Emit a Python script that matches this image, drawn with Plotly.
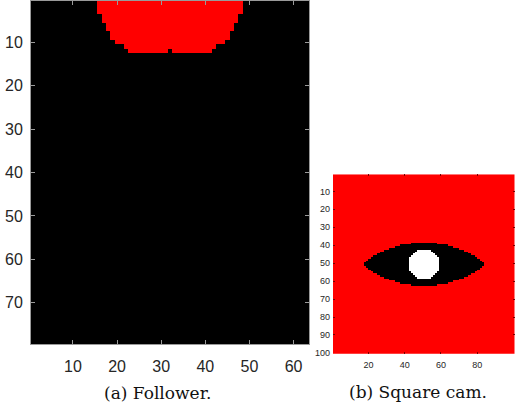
import numpy as np
import plotly.graph_objects as go

# ---- (a) Follower: 63 x 79 binary frame, red blob at the top -------------
follower_cols = 63
follower_rows = 79
# red span per image row: (row, first col, last col), 1-based
follower_red_rows = [1, 2, 3, 4, 5, 6, 7, 8, 9, 10, 11, 12]
follower_red_first = [16, 16, 16, 17, 17, 18, 18, 19, 19, 20, 22, 23]
follower_red_last = [48, 48, 48, 47, 47, 46, 46, 45, 45, 44, 42, 41]
# single dark pixel inside the blob: (row, col)
follower_hole = (12, 32)

# ---- (b) Square cam: 100 x 100 frame, red with a black eye and white pupil
cam_size = 100
eye_center = (50.5, 50.5)      # (col, row)
eye_half_width = 34.0
eye_half_height = 12.0
pupil_radius = 8.4

x_ticks_a = [10, 20, 30, 40, 50, 60]
y_ticks_a = [10, 20, 30, 40, 50, 60, 70]
x_ticks_b = [20, 40, 60, 80, 100]
y_ticks_b = [10, 20, 30, 40, 50, 60, 70, 80, 90, 100]

BLACK, RED, WHITE = 0, 1, 2

# build follower image
img_a = np.full((follower_rows, follower_cols), BLACK)
for r, c0, c1 in zip(follower_red_rows, follower_red_first, follower_red_last):
    img_a[r - 1, c0 - 1:c1] = RED
img_a[follower_hole[0] - 1, follower_hole[1] - 1] = BLACK

# build square-cam image: lens made of two circular arcs, pupil disc
img_b = np.full((cam_size, cam_size), RED)
cols = np.arange(1, cam_size + 1)
rows = np.arange(1, cam_size + 1)
CC, RR = np.meshgrid(cols, rows)
cx, cy = eye_center
arc_r = (eye_half_width ** 2 + eye_half_height ** 2) / (2 * eye_half_height)
top_cy = cy - eye_half_height + arc_r
bot_cy = cy + eye_half_height - arc_r
in_top = (CC - cx) ** 2 + (RR - top_cy) ** 2 <= arc_r ** 2
in_bot = (CC - cx) ** 2 + (RR - bot_cy) ** 2 <= arc_r ** 2
img_b[in_top & in_bot] = BLACK
img_b[(CC - cx) ** 2 + (RR - cy) ** 2 <= pupil_radius ** 2] = WHITE

scale = [[0.0, "#000000"], [0.5, "#ff0000"], [1.0, "#ffffff"]]

fig = go.Figure()
fig.add_trace(go.Heatmap(
    z=img_a.tolist(), x=list(range(1, follower_cols + 1)),
    y=list(range(1, follower_rows + 1)),
    colorscale=scale, zmin=0, zmax=2, showscale=False,
    xaxis="x", yaxis="y", hoverinfo="skip"))
fig.add_trace(go.Heatmap(
    z=img_b.tolist(), x=list(cols), y=list(rows),
    colorscale=scale, zmin=0, zmax=2, showscale=False,
    xaxis="x2", yaxis="y2", hoverinfo="skip"))

W, H = 517, 412
tick_font_a = dict(family="Liberation Sans, Arial, sans-serif", size=16, color="#262626")
tick_font_b = dict(family="Liberation Sans, Arial, sans-serif", size=9, color="#262626")

fig.update_layout(
    width=W, height=H,
    margin=dict(l=0, r=0, t=0, b=0),
    paper_bgcolor="white", plot_bgcolor="white",
    showlegend=False,
    xaxis=dict(
        domain=[31 / W, 309 / W], range=[0.5, follower_cols + 0.5],
        tickvals=x_ticks_a, ticks="inside", ticklen=4, tickcolor="#9a9a9a",
        showline=True, linecolor="#9a9a9a", linewidth=1, mirror="ticks",
        showgrid=False, zeroline=False, tickfont=tick_font_a, anchor="y",
        ticklabelstandoff=8),
    yaxis=dict(
        domain=[1 - 347.5 / H, 1 - 1 / H], range=[follower_rows + 0.5, 0.5],
        tickvals=y_ticks_a, ticks="inside", ticklen=4, tickcolor="#9a9a9a",
        showline=True, linecolor="#9a9a9a", linewidth=1, mirror="ticks",
        showgrid=False, zeroline=False, tickfont=tick_font_a, anchor="x",
        ticklabelstandoff=4),
    xaxis2=dict(
        domain=[333 / W, 514.5 / W], range=[0.5, cam_size + 0.5],
        tickvals=x_ticks_b, ticks="inside", ticklen=2, tickcolor="#7a0000",
        showline=False, mirror="ticks",
        showgrid=False, zeroline=False, tickfont=tick_font_b, anchor="y2",
        ticklabelstandoff=4),
    yaxis2=dict(
        domain=[1 - 357.3 / H, 1 - 176 / H], range=[cam_size + 0.5, 0.5],
        tickvals=y_ticks_b, ticks="inside", ticklen=2, tickcolor="#7a0000",
        showline=False, mirror="ticks",
        showgrid=False, zeroline=False, tickfont=tick_font_b, anchor="x2",
        ticklabelstandoff=2),
)

cap_font = dict(family="DejaVu Serif, serif", size=17, color="#111111")
fig.add_annotation(text="(a) Follower.", x=157.5 / W, y=1 - 397 / H,
                   xref="paper", yref="paper", showarrow=False, font=cap_font,
                   xanchor="center", yanchor="middle")
fig.add_annotation(text="(b) Square cam.", x=418 / W, y=1 - 396 / H,
                   xref="paper", yref="paper", showarrow=False, font=cap_font,
                   xanchor="center", yanchor="middle")

fig.write_html("out.html")
